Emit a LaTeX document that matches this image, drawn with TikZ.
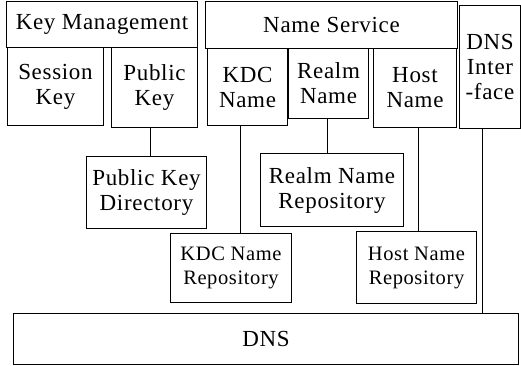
\documentclass[tikz,border=0pt]{standalone}
\usepackage{fontspec}
\setmainfont{Liberation Serif}[LetterSpace=3]
\begin{document}
\begin{tikzpicture}[x=1pt,y=-1pt,
  box/.style={draw,line width=1pt,anchor=north west,inner sep=0pt,
    align=center,font=\fontsize{23}{25}\selectfont},
  smallbox/.style={box,font=\fontsize{20.5}{24}\selectfont},
  link/.style={line width=1pt}]
\useasboundingbox (0,0) rectangle (521,365);
% Key management column
\node[box,minimum width=191pt,minimum height=46pt] (km) at (6,1) {Key Management};
\node[box,minimum width=96pt,minimum height=78pt] (sk) at (7,47) {Session\\Key};
\node[box,minimum width=86pt,minimum height=80pt] (pk) at (111,47) {Public\\Key};
% Name service column
\node[box,minimum width=252pt,minimum height=47pt] (ns) at (205,1) {Name Service};
\node[box,minimum width=80pt,minimum height=77pt] (kdc) at (207,48) {KDC\\Name};
\node[box,minimum width=80pt,minimum height=70pt] (realm) at (288,48) {Realm\\Name};
\node[box,minimum width=83pt,minimum height=79pt] (host) at (373,48) {Host\\Name};
\node[box,minimum width=61pt,minimum height=123pt] (dnsi) at (459,5) {DNS\\Inter\\-face};
% Repositories
\node[box,minimum width=120pt,minimum height=72pt] (pkd) at (86,156) {Public Key\\Directory};
\node[box,minimum width=143pt,minimum height=73pt] (rnr) at (260,153) {Realm Name\\Repository};
\node[smallbox,minimum width=121pt,minimum height=69pt] (kdcr) at (170,233) {KDC Name\\Repository};
\node[smallbox,minimum width=120pt,minimum height=72pt] (hnr) at (356,231) {Host Name\\Repository};
\node[box,minimum width=505pt,minimum height=51pt] (dns) at (13,313) {DNS};
% Connector columns
\coordinate (c1) at (150,0);
\coordinate (c2) at (240,0);
\coordinate (c3) at (327,0);
\coordinate (c4) at (418,0);
\coordinate (c5) at (482,0);
\draw[link] (pk.south -| c1) -- (pkd.north -| c1);
\draw[link] (kdc.south -| c2) -- (kdcr.north -| c2);
\draw[link] (realm.south -| c3) -- (rnr.north -| c3);
\draw[link] (host.south -| c4) -- (hnr.north -| c4);
\draw[link] (dnsi.south -| c5) -- (dns.north -| c5);
\end{tikzpicture}
\end{document}
